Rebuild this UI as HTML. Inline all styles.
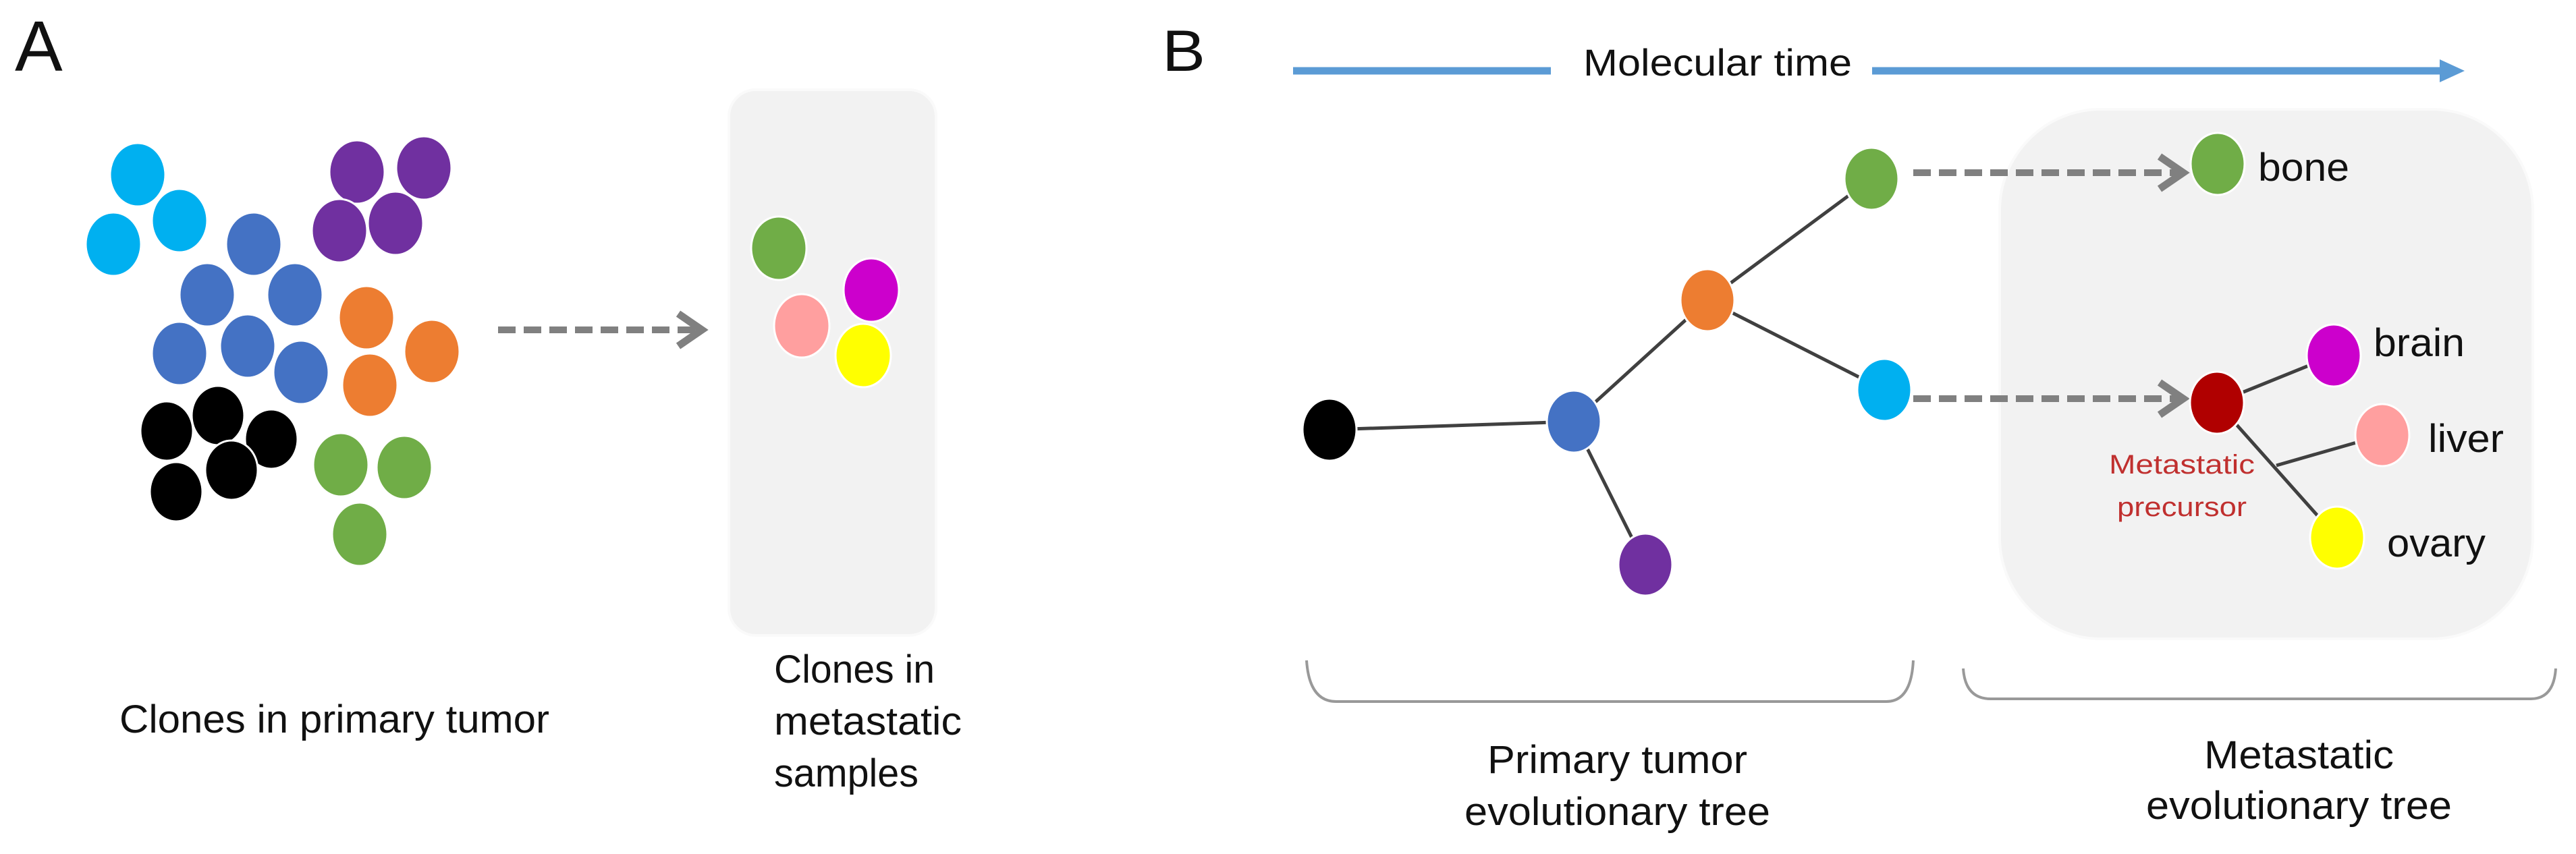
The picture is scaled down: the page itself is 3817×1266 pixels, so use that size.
<!DOCTYPE html>
<html><head><meta charset="utf-8"><style>
html,body{margin:0;padding:0;background:#fff;}
svg{display:block;}
text{font-family:"Liberation Sans",sans-serif;fill:#111;}
</style></head><body>
<svg width="3817" height="1266" viewBox="0 0 3817 1266" xmlns="http://www.w3.org/2000/svg">
<defs>
<marker id="ah" markerWidth="6" markerHeight="6" refX="4.5" refY="3" orient="auto" markerUnits="strokeWidth">
<path d="M1,0.6 L4.5,3 L1,5.4" fill="none" stroke="#808080" stroke-width="1.1"/>
</marker>
</defs>
<!-- Panel A -->
<text x="22" y="105" font-size="106">A</text>
<g stroke="#fff" stroke-width="3">
<g fill="#00b0f0"><ellipse cx="204" cy="259" rx="41" ry="47"/><ellipse cx="266" cy="327" rx="41" ry="47"/><ellipse cx="168" cy="362" rx="41" ry="47"/></g>
<g fill="#7030a0"><ellipse cx="529" cy="255" rx="41" ry="47"/><ellipse cx="628" cy="249" rx="41" ry="47"/><ellipse cx="503" cy="342" rx="41" ry="47"/><ellipse cx="586" cy="331" rx="41" ry="47"/></g>
<g fill="#4472c4"><ellipse cx="376" cy="362" rx="41" ry="47"/><ellipse cx="307" cy="437" rx="41" ry="47"/><ellipse cx="437" cy="437" rx="41" ry="47"/><ellipse cx="266" cy="524" rx="41" ry="47"/><ellipse cx="367" cy="513" rx="41" ry="47"/><ellipse cx="446" cy="552" rx="41" ry="47"/></g>
<g fill="#ed7d31"><ellipse cx="543" cy="471" rx="41" ry="47"/><ellipse cx="640" cy="521" rx="41" ry="47"/><ellipse cx="548" cy="571" rx="41" ry="47"/></g>
<g fill="#000"><ellipse cx="247" cy="639" rx="39" ry="44"/><ellipse cx="323" cy="616" rx="39" ry="44"/><ellipse cx="402" cy="651" rx="39" ry="44"/><ellipse cx="343" cy="697" rx="39" ry="44"/><ellipse cx="261" cy="729" rx="39" ry="44"/></g>
<g fill="#70ad47"><ellipse cx="505" cy="689" rx="41" ry="47"/><ellipse cx="599" cy="693" rx="41" ry="47"/><ellipse cx="533" cy="792" rx="41" ry="47"/></g>
</g>
<line x1="738" y1="489" x2="1040" y2="489" stroke="#808080" stroke-width="10" stroke-dasharray="26,12" marker-end="url(#ah)"/>
<rect x="1080" y="133" width="307" height="809" rx="40" fill="#f2f2f2" stroke="#fafafa" stroke-width="4"/>
<g stroke="#fff" stroke-width="3">
<ellipse cx="1154" cy="368" rx="41" ry="47" fill="#70ad47"/>
<ellipse cx="1291" cy="430" rx="41" ry="47" fill="#cc00cc"/>
<ellipse cx="1188" cy="483" rx="41" ry="47" fill="#ff9f9f"/>
<ellipse cx="1279" cy="527" rx="41" ry="47" fill="#ffff00"/>
</g>
<text x="177" y="1086" font-size="58" textLength="637" lengthAdjust="spacingAndGlyphs">Clones in primary tumor</text>
<text x="1147" y="1012" font-size="58" textLength="238" lengthAdjust="spacingAndGlyphs">Clones in</text>
<text x="1147" y="1089" font-size="58" textLength="278" lengthAdjust="spacingAndGlyphs">metastatic</text>
<text x="1147" y="1166" font-size="58" textLength="214" lengthAdjust="spacingAndGlyphs">samples</text>

<!-- Panel B -->
<text x="1722" y="105" font-size="86" textLength="64" lengthAdjust="spacingAndGlyphs">B</text>
<line x1="1916" y1="105" x2="2298" y2="105" stroke="#5b9bd5" stroke-width="11"/>
<line x1="2774" y1="105" x2="3625" y2="105" stroke="#5b9bd5" stroke-width="11"/>
<path d="M3615,88 L3652,105 L3615,122 Z" fill="#5b9bd5"/>
<text x="2346" y="112" font-size="56" textLength="398" lengthAdjust="spacingAndGlyphs">Molecular time</text>
<rect x="2963" y="162" width="790" height="785" rx="150" fill="#f2f2f2" stroke="#fafafa" stroke-width="4"/>
<g stroke="#404040" stroke-width="5">
<line x1="1970" y1="637" x2="2332" y2="625"/>
<line x1="2332" y1="625" x2="2530" y2="445"/>
<line x1="2530" y1="445" x2="2773" y2="265"/>
<line x1="2530" y1="445" x2="2792" y2="578"/>
<line x1="2332" y1="625" x2="2438" y2="837"/>
<line x1="3285" y1="597" x2="3458" y2="527"/>
<line x1="3285" y1="597" x2="3463" y2="797"/>
<line x1="3373" y1="690" x2="3530" y2="645"/>
</g>
<line x1="2835" y1="256" x2="3235" y2="256" stroke="#808080" stroke-width="10" stroke-dasharray="26,12" marker-end="url(#ah)"/>
<line x1="2835" y1="591" x2="3235" y2="591" stroke="#808080" stroke-width="10" stroke-dasharray="26,12" marker-end="url(#ah)"/>
<g stroke="#fff" stroke-width="3">
<ellipse cx="1970" cy="637" rx="40" ry="46" fill="#000"/>
<ellipse cx="2332" cy="625" rx="40" ry="46" fill="#4472c4"/>
<ellipse cx="2530" cy="445" rx="40" ry="46" fill="#ed7d31"/>
<ellipse cx="2773" cy="265" rx="40" ry="46" fill="#70ad47"/>
<ellipse cx="2792" cy="578" rx="40" ry="46" fill="#00b0f0"/>
<ellipse cx="2438" cy="837" rx="40" ry="46" fill="#7030a0"/>
<ellipse cx="3286" cy="243" rx="40" ry="46" fill="#70ad47"/>
<ellipse cx="3285" cy="597" rx="40" ry="46" fill="#b00000"/>
<ellipse cx="3458" cy="527" rx="40" ry="46" fill="#cc00cc"/>
<ellipse cx="3530" cy="645" rx="40" ry="46" fill="#ff9f9f"/>
<ellipse cx="3463" cy="797" rx="40" ry="46" fill="#ffff00"/>
</g>
<text x="3346" y="268" font-size="58" textLength="135" lengthAdjust="spacingAndGlyphs">bone</text>
<text x="3517" y="528" font-size="58" textLength="135" lengthAdjust="spacingAndGlyphs">brain</text>
<text x="3598" y="670" font-size="58" textLength="112" lengthAdjust="spacingAndGlyphs">liver</text>
<text x="3537" y="825" font-size="58" textLength="146" lengthAdjust="spacingAndGlyphs">ovary</text>
<text x="3125" y="702" font-size="40" fill="#c0302f" style="fill:#c0302f" textLength="216" lengthAdjust="spacingAndGlyphs">Metastatic</text>
<text x="3137" y="765" font-size="40" style="fill:#c0302f" textLength="192" lengthAdjust="spacingAndGlyphs">precursor</text>
<path d="M1936,979 Q1940,1040 1980,1040 L2795,1040 Q2832,1040 2835,979" fill="none" stroke="#999" stroke-width="4"/>
<path d="M2909,991 Q2912,1036 2950,1036 L3750,1036 Q3784,1036 3787,991" fill="none" stroke="#999" stroke-width="4"/>
<text x="2204" y="1146" font-size="58" textLength="385" lengthAdjust="spacingAndGlyphs">Primary tumor</text>
<text x="2170" y="1223" font-size="58" textLength="453" lengthAdjust="spacingAndGlyphs">evolutionary tree</text>
<text x="3266" y="1139" font-size="58" textLength="281" lengthAdjust="spacingAndGlyphs">Metastatic</text>
<text x="3180" y="1214" font-size="58" textLength="453" lengthAdjust="spacingAndGlyphs">evolutionary tree</text>
</svg>
</body></html>
